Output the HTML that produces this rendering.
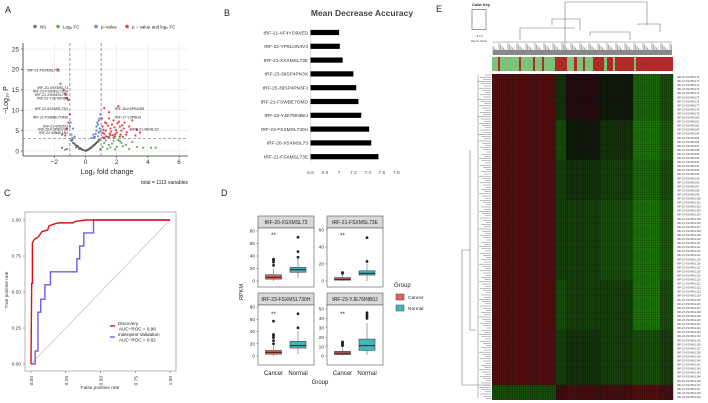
<!DOCTYPE html>
<html><head><meta charset="utf-8">
<style>
body{margin:0;background:#fff;font-family:"Liberation Sans",sans-serif;}
svg{display:block}
text{font-family:"Liberation Sans",sans-serif}
</style></head>
<body>
<svg id="fig" width="708" height="403" viewBox="0 0 708 403" xmlns="http://www.w3.org/2000/svg">
<rect width="708" height="403" fill="#fff"/>
<g font-size="9" fill="#222">
<text x="5" y="13">A</text>
<text x="224" y="16">B</text>
<text x="4" y="196">C</text>
<text x="221" y="196">D</text>
<text x="436" y="12">E</text>
</g>
<g id="pa"></g>
<g id="pb"></g>
<g id="pc"></g>
<g id="pd"></g>
<g id="pe"></g>
</svg>
<script>
const NS='http://www.w3.org/2000/svg';
function mk(p,tag,a,txt){const e=document.createElementNS(NS,tag);for(const k in a)e.setAttribute(k,a[k]);if(txt!==undefined)e.textContent=txt;p.appendChild(e);return e;}

// ---------- A: volcano data ----------
const nsX=[-0.9,-0.7,-0.5,-0.3,-0.1,0,0.1,0.3,0.5,0.7,0.9,-0.6,-0.4,0.2,0.4,0.6,0.8,-0.8,-1.2,-1.5,0.95,-0.2,0.15,0.35,0.55,0.75,-0.65,-0.45,-0.25,0.05,0.85,0.65,0.45,0.25,-0.85,-0.55,-0.35,1.2,1.5,1.8,2.2];
const nsY=[2.5,1.8,1.2,0.6,0.2,0.05,0.2,0.7,1.3,2,2.6,0.9,0.5,0.4,0.9,1.6,2.3,2,0.5,0.8,0.4,0.3,0.3,0.8,1.5,2.2,1.5,0.9,0.4,0.1,2.8,1.8,1.1,0.5,2.7,1.3,0.7,3.2,3.4,3.3,3.5];
const bluX=[-0.9,-0.8,-0.95,-0.7,0.5,0.7,0.8,0.9,0.6,0.85,-0.85,0.95,0.75,-1,0.4,0.65,0.9,0.8,0.55,0.7,0.95,0.85];
const bluY=[4,5.5,7,3.5,4,5,6.5,8,3.5,4.5,3.2,9,7,6,3.2,4.2,5.5,3.6,3.4,6,4.8,7.5];
const redX=[-1.8,-1.6,-1.4,-1.3,-1.2,-1.1,-1.0,-1.1,-1.2,-1.5,-1.3,1.2,2.1,1.5,1.8,2.5,3,1.1,1.3,1.6,2,2.3,2.6,3.2,1.4,1.9,2.8,1.2,1.7,2.2,3.5,1.1,2.4,1.05,1.5,1.25,1.45,1.65,1.85,2.05,2.25,2.45,2.65,1.15,1.35,1.55,1.75,1.95,2.15,2.35,2.9,3.3,1.1,1.3,1.6,1.9];
const redY=[20,16.5,15,14,13,12.5,9,7,5.5,4,3.8,10.5,11,8,7.5,7,7.5,6,5,5.5,4.5,5,4,3.8,3.5,3.6,6,4.2,6.5,6,4.5,3.3,3.5,8,9.5,7,6.2,4.8,5.8,6.8,4,5.5,4.6,5.2,6.8,4.3,3.9,5.1,7.2,6.3,5.3,5.2,4.5,3.6,3.9,4.1];
const grnX=[1.2,1.5,1.8,2,2.3,2.6,3,3.3,3.7,4.2,4.5,1.4,2.8,-1.3,1.1,1.3,1.7,2.1,2.4,1.6,1.9,2.2];
const grnY=[2,1.5,2.5,1,2,1.5,2.2,1,0.8,0.8,0.8,0.5,0.5,0.3,1,2.6,1.8,2.7,1.2,0.9,0.4,2.4];
const volXTicks=[-2,0,2,4,6], volYTicks=[0,5,10,15,20,25];
const volLabels=[["tRF-21-FSXMSL73E",-1.8,19.5],["tRF-20-XSXMSL73",-1.3,15.2],["tRF-23-FSXMSL730H",-1.3,14.3],["tRF-21-XSXMSL73E",-1.3,13.5],["tRF-22-Y3E76INB6",-1.3,12.6],["tRF-22-6SXMSL73O",-1.3,10],["tRF-21-FSWBE7OMD",-1.3,8],["tRF-16-K0PIN2D5",1.9,10],["tRF-21-W62DO",-1.3,5.8],["tRF-20-K3P80V9D",-1.3,5],["tRF-22-WB6K1N2",-1.3,4.2],["tRF-17-Y3PBU9",1.9,8],["tRF-21-RK9ILS7",3,5]];
(function(){
 const g=document.getElementById('pa');
 const X=v=>85.5+v*15.6, Y=v=>151-v*4.08;
 const L=23,R=188,T=43,B=156;
 mk(g,'rect',{x:L,y:T,width:R-L,height:B-T,fill:'#fff'});
 volXTicks.forEach(t=>{mk(g,'line',{x1:X(t),x2:X(t),y1:T,y2:B,stroke:'#e6e6e6','stroke-width':0.6});mk(g,'line',{x1:X(t),x2:X(t),y1:B,y2:B+2,stroke:'#333','stroke-width':0.6});mk(g,'text',{x:X(t),y:B+8,'font-size':6.5,'text-anchor':'middle',fill:'#333'},t<0?'−'+(-t):t);});
 volYTicks.forEach(t=>{mk(g,'line',{x1:L,x2:R,y1:Y(t),y2:Y(t),stroke:'#e6e6e6','stroke-width':0.6});mk(g,'line',{x1:L-2,x2:L,y1:Y(t),y2:Y(t),stroke:'#333','stroke-width':0.6});mk(g,'text',{x:L-4,y:Y(t)+2.3,'font-size':6.5,'text-anchor':'end',fill:'#333'},t);});
 mk(g,'line',{x1:L,x2:L,y1:T,y2:B,stroke:'#333','stroke-width':0.8});
 mk(g,'line',{x1:L,x2:R,y1:B,y2:B,stroke:'#333','stroke-width':0.8});
 [-1,1].forEach(t=>mk(g,'line',{x1:X(t),x2:X(t),y1:T,y2:B,stroke:'#555','stroke-width':0.6,'stroke-dasharray':'3,2'}));
 mk(g,'line',{x1:L,x2:R,y1:Y(3),y2:Y(3),stroke:'#555','stroke-width':0.6,'stroke-dasharray':'3,2'});
 function pts(xs,ys,c,name){xs.forEach((x,i)=>{const e=mk(g,'circle',{cx:X(x),cy:Y(ys[i]),r:1.1,fill:c,'fill-opacity':0.8});
 
 });}
 pts(nsX,nsY,'#555','ns-point');pts(grnX,grnY,'#4a9a3a','log2fc-point');pts(bluX,bluY,'#4b68d8','pvalue-point');pts(redX,redY,'#dd1a1a','significant-point');
 volLabels.forEach(l=>{const anchor=l[1]<0?'end':'start';mk(g,'text',{x:X(l[1])+(l[1]<0?3:0),y:Y(l[2]),'font-size':3.6,'text-anchor':anchor,fill:'#222'},l[0]);});
 mk(g,'text',{x:107,y:174,'font-size':7,'text-anchor':'middle',fill:'#222'},'Log₂ fold change');
 mk(g,'text',{x:8,y:100,'font-size':7,'text-anchor':'middle',fill:'#222',transform:'rotate(-90 8 100)'},'−Log₁₀ P');
 mk(g,'text',{x:188,y:184,'font-size':5,'text-anchor':'end',fill:'#222'},'total = 1113 variables');
 const leg=[['NS','#777',35],['Log₂ FC','#5fae4c',58],['p−value','#6b86e6',96],['p − value and log₂ FC','#e04747',127]];
 leg.forEach(l=>{const e=mk(g,'circle',{cx:l[2],cy:26.5,r:1.8,fill:l[1]});
 
 
 mk(g,'text',{x:l[2]+5,y:28.5,'font-size':4.5,fill:'#222'},l[0]);});
})();

// ---------- B: importance ----------
const bNames=["tRF-21-VF4YO9XED","tRF-22-YP9LON4V3","tRF-21-XSXMSL73E","tRF-23-39SP4PN3X","tRF-25-39SP4PN3FJ","tRF-21-FSWBE7OMD","tRF-23-YJE76INB0J","tRF-23-FSXMSL730H","tRF-20-XSXMSL73","tRF-21-FSXMSL73E"];
const bVals=[7.0,7.01,7.05,7.2,7.24,7.27,7.31,7.42,7.45,7.55];
const bTicks=[6.6,6.8,7,7.2,7.4,7.6,7.8];
(function(){
 const g=document.getElementById('pb');
 const X=v=>310.5+(v-6.6)*71.5;
 mk(g,'text',{x:362,y:16,'font-size':8.5,'font-weight':'bold','text-anchor':'middle',fill:'#444'},'Mean Decrease  Accuracy');
 mk(g,'line',{x1:310.5,x2:310.5,y1:27,y2:163,stroke:'#ccc','stroke-width':0.6});
 bNames.forEach((n,i)=>{const y=32.5+i*13.8;
  const r=mk(g,'rect',{x:310.5,y:y-2.6,width:X(bVals[i])-310.5,height:5.2,fill:'#000'});
  
  
  mk(g,'text',{x:308,y:y+1.8,'font-size':4.8,'text-anchor':'end',fill:'#333'},n);});
 bTicks.forEach(t=>mk(g,'text',{x:X(t),y:174,'font-size':4.8,'text-anchor':'middle',fill:'#555'},t));
})();

// ---------- C: ROC ----------
const discFpr=[0,0.005,0.01,0.01,0.02,0.03,0.05,0.08,0.12,0.13,0.16,0.2,0.3,0.32,0.4,1];
const discTpr=[0,0.56,0.56,0.84,0.86,0.87,0.88,0.92,0.93,0.96,0.97,0.98,0.98,0.99,1,1];
const valFpr=[0,0.03,0.03,0.05,0.05,0.07,0.07,0.1,0.1,0.14,0.14,0.33,0.33,0.35,0.35,0.38,0.38,0.45,0.45,1];
const valTpr=[0,0,0.09,0.09,0.36,0.36,0.45,0.45,0.55,0.55,0.64,0.64,0.73,0.73,0.82,0.82,0.91,0.91,1,1];
const rocTicks=[0,0.25,0.5,0.75,1];
(function(){
 const g=document.getElementById('pc');
 const X=v=>31+v*139, Y=v=>364-v*144;
 mk(g,'rect',{x:25,y:212,width:151,height:159,fill:'#fff',stroke:'#999','stroke-width':0.7});
 rocTicks.forEach(t=>{const s=t.toFixed(2);
  mk(g,'line',{x1:X(t),x2:X(t),y1:371,y2:373,stroke:'#555','stroke-width':0.5});
  mk(g,'text',{x:X(t)+2,y:376,'font-size':4.8,'text-anchor':'end',fill:'#333',transform:`rotate(-90 ${X(t)+2} 376)`},s);
  mk(g,'line',{x1:23,x2:25,y1:Y(t),y2:Y(t),stroke:'#555','stroke-width':0.5});
  mk(g,'text',{x:21,y:Y(t)+1.7,'font-size':4.8,'text-anchor':'end',fill:'#333'},s);});
 mk(g,'line',{x1:X(0),y1:Y(0),x2:X(1),y2:Y(1),stroke:'#bbb','stroke-width':0.6});
 function line(xs,ys,c,n){const p=mk(g,'polyline',{points:xs.map((x,i)=>X(x)+','+Y(ys[i])).join(' '),fill:'none',stroke:c,'stroke-width':1.4});
  
  }
 line(valFpr,valTpr,'#6e5ee6','validation-roc-line');
 line(discFpr,discTpr,'#e01010','discovery-roc-line');
 mk(g,'text',{x:100,y:389,'font-size':4.8,'text-anchor':'middle',fill:'#333'},'False positive rate');
 mk(g,'text',{x:8,y:290,'font-size':4.8,'text-anchor':'middle',fill:'#333',transform:'rotate(-90 8 290)'},'True positive rate');
 mk(g,'line',{x1:110,x2:115,y1:326,y2:326,stroke:'#e01010','stroke-width':1.4});
 mk(g,'text',{x:118,y:325,'font-size':4.6,fill:'#222'},'Discovery');
 mk(g,'text',{x:119,y:330.5,'font-size':4.6,fill:'#222'},'AUC−ROC = 0.98');
 mk(g,'line',{x1:110,x2:115,y1:337,y2:337,stroke:'#6e5ee6','stroke-width':1.4});
 mk(g,'text',{x:118,y:336,'font-size':4.6,fill:'#222'},'Indenpent Validation');
 mk(g,'text',{x:119,y:341.5,'font-size':4.6,fill:'#222'},'AUC−ROC = 0.82');
})();

// ---------- D: boxplots ----------
const facetNames=["tRF-20-XSXMSL73","tRF-21-FSXMSL73E","tRF-23-FSXMSL730H","tRF-23-YJE76INB0J"];
const facetMax=[80,60,80,50];
const facetTicks=[[0,20,40,60,80],[0,20,40,60],[0,20,40,60,80],[0,10,20,30,40,50]];
const cancerStats=[[0,3,6,10,20],[0,1,2,4,7],[0,3,6,9,17],[0,1.5,3,5,9]];
const normalStats=[[5,14,18,22,35],[0,7,9,12,20],[3,13,17,24,40],[1,6,11,18,35]];
const cancerOut=[[25,30,33,35],[9,10],[20,25,30,33,35,57],[11,12,13,14,15]];
const normalOut=[[38,47,70],[23,51],[46,69],[40,42,44,46]];
const starY=[75,55,70,46];
(function(){
 const g=document.getElementById('pd');
 const panels=[[258,314,216,228,287],[327,383,216,228,287],[258,314,293,305,365],[327,383,293,305,365]];
 const zeroY=[281,281,356,356], pxPer=[50/80,51/60,49/80,47/50];
 panels.forEach((p,i)=>{
  const [L,R,ST,T,B]=p;const Y=v=>zeroY[i]-v*pxPer[i];
  mk(g,'rect',{x:L,y:ST,width:R-L,height:T-ST,fill:'#d9d9d9',stroke:'#555','stroke-width':0.6});
  mk(g,'text',{x:(L+R)/2,y:ST+8,'font-size':5,'text-anchor':'middle',fill:'#222'},facetNames[i]);
  mk(g,'rect',{x:L,y:T,width:R-L,height:B-T,fill:'#fff',stroke:'#555','stroke-width':0.6});
  facetTicks[i].forEach(t=>{mk(g,'text',{x:L-3,y:Y(t)+1.7,'font-size':4.8,'text-anchor':'end',fill:'#333'},t);mk(g,'line',{x1:L-1.5,x2:L,y1:Y(t),y2:Y(t),stroke:'#555','stroke-width':0.5});});
  const xs=[L+15.5,L+40];
  [[cancerStats,cancerOut,'#e0655e'],[normalStats,normalOut,'#3fb8bd']].forEach((s,j)=>{
   const st=s[0][i],x=xs[j];
   mk(g,'line',{x1:x,x2:x,y1:Y(st[0]),y2:Y(st[4]),stroke:'#444','stroke-width':0.5});
   const r=mk(g,'rect',{x:x-8,y:Y(st[3]),width:16,height:Math.max(1,Y(st[1])-Y(st[3])),fill:s[2],stroke:'#444','stroke-width':0.6});
   
   
   mk(g,'line',{x1:x-8,x2:x+8,y1:Y(st[2]),y2:Y(st[2]),stroke:'#222','stroke-width':1});
   s[1][i].forEach(o=>mk(g,'circle',{cx:x,cy:Y(o),r:1.4,fill:'#222'}));
  });
  mk(g,'text',{x:xs[0],y:Y(starY[i])+3,'font-size':6,'text-anchor':'middle',fill:'#222'},'**');
  if(i>=2){mk(g,'text',{x:xs[0],y:375,'font-size':6,'text-anchor':'middle',fill:'#222'},'Cancer');mk(g,'text',{x:xs[1],y:375,'font-size':6,'text-anchor':'middle',fill:'#222'},'Normal');}
 });
 mk(g,'text',{x:320,y:384,'font-size':6,'text-anchor':'middle',fill:'#222'},'Group');
 mk(g,'text',{x:243,y:292,'font-size':5.5,'text-anchor':'middle',fill:'#222',transform:'rotate(-90 243 292)'},'RPKM');
 mk(g,'text',{x:394,y:287,'font-size':6,fill:'#222'},'Group');
 mk(g,'rect',{x:396,y:294,width:8,height:6,fill:'#e0655e',stroke:'#444','stroke-width':0.5});
 mk(g,'text',{x:408,y:299,'font-size':4.8,fill:'#222'},'Cancer');
 mk(g,'rect',{x:396,y:305,width:8,height:6,fill:'#3fb8bd',stroke:'#444','stroke-width':0.5});
 mk(g,'text',{x:408,y:310,'font-size':4.8,fill:'#222'},'Normal');
})();

// ---------- E: heatmap ----------
const colBreaks=[492,556,566,600,633,660,673];
const rowBreaks=[74,120,160,200,240,280,330,385,400];
const blockVals=[
 [0.5,-0.2,0.1,0.0,-0.6,-0.4],
 [0.5,-0.4,0.0,-0.2,-0.7,-0.5],
 [0.5,-0.3,-0.2,-0.3,-0.6,-0.4],
 [0.5,-0.3,-0.3,-0.4,-0.7,-0.5],
 [0.5,-0.3,-0.3,-0.4,-0.7,-0.5],
 [0.5,-0.4,-0.3,-0.3,-0.7,-0.4],
 [0.5,-0.3,-0.2,-0.3,-0.4,-0.3],
 [-0.4,0.3,0.4,0.4,0.5,0.4]];
const groupBar=[[492,555,'g'],[498,500,'r'],[519,521,'r'],[533,535,'r'],[542,544,'r'],[555,567,'r'],[567,593,'g'],[574,577,'r'],[583,585,'r'],[593,633,'r'],[604,607,'g'],[613,615,'g'],[633,673,'r'],[634,636,'g']];
(function(){
 const g=document.getElementById('pe');
 function col(v){const a=Math.abs(v);return v>0?`rgb(${Math.round(25+130*a)},${Math.round(12+10*a)},${Math.round(18)})`:`rgb(${Math.round(18+20*a)},${Math.round(28+140*a)},${Math.round(12)})`;}
 blockVals.forEach((row,ri)=>row.forEach((v,ci)=>{
  const r=mk(g,'rect',{x:colBreaks[ci],y:rowBreaks[ri],width:colBreaks[ci+1]-colBreaks[ci],height:rowBreaks[ri+1]-rowBreaks[ri],fill:col(v)});
  
  }));
 for(let x=492.5;x<673;x+=2.2)mk(g,'rect',{x:x,y:74,width:0.7,height:326,fill:'#000','fill-opacity':0.35});
 for(let y=74.5;y<400;y+=2.4)mk(g,'rect',{x:492,y:y,width:181,height:0.6,fill:'#000','fill-opacity':0.25});
 groupBar.forEach(b=>{const r=mk(g,'rect',{x:b[0],y:57,width:b[1]-b[0],height:14,fill:b[2]=='g'?'#7cc27a':'#b02a2a'});
  
  });
 const dc='#777';
 mk(g,'polyline',{points:'565,55 565,2 647,2 647,25',fill:'none',stroke:dc,'stroke-width':0.6});
 mk(g,'polyline',{points:'552,25 552,19 580,19 580,30',fill:'none',stroke:dc,'stroke-width':0.6});
 mk(g,'polyline',{points:'638,25 638,24 660,24 660,32',fill:'none',stroke:dc,'stroke-width':0.6});
 mk(g,'polyline',{points:'520,40 520,28 575,28',fill:'none',stroke:dc,'stroke-width':0.6});
 mk(g,'polyline',{points:'590,36 590,32 630,32 630,40',fill:'none',stroke:dc,'stroke-width':0.6});
 for(let x=493;x<673;x+=1.5)mk(g,'line',{x1:x,x2:x,y1:42+((x*7)%9),y2:55,stroke:dc,'stroke-width':0.6});
 mk(g,'rect',{x:493,y:50,width:179,height:5,fill:'#888'});
 mk(g,'line',{x1:493,x2:672,y1:42,y2:42,stroke:dc,'stroke-width':0.5});
 mk(g,'polyline',{points:'490,385 462,385 462,250 470,250',fill:'none',stroke:dc,'stroke-width':0.6});
 mk(g,'polyline',{points:'470,150 470,330 476,330',fill:'none',stroke:dc,'stroke-width':0.6});
 for(let y=75;y<400;y+=2.2)mk(g,'line',{x1:478+((y*5)%8),x2:491,y1:y,y2:y,stroke:dc,'stroke-width':0.5});
 mk(g,'line',{x1:478,x2:478,y1:75,y2:398,stroke:dc,'stroke-width':0.5});
 for(let i=0;i<80;i++){mk(g,'text',{x:677,y:78+i*4.05,'font-size':2.6,fill:'#444'},'tRF-2'+(i%5)+'-XSXMSL'+(70+i));}
 mk(g,'text',{x:472,y:6,'font-size':3.8,'font-weight':'bold',fill:'#222'},'Color Key');
 mk(g,'rect',{x:472,y:9.5,width:14,height:20,fill:'#fff',stroke:'#333','stroke-width':0.5});
 mk(g,'text',{x:479,y:37,'font-size':2.6,'text-anchor':'middle',fill:'#333'},'−4  0  4');
 mk(g,'text',{x:479,y:42,'font-size':2.6,'text-anchor':'middle',fill:'#333'},'Row Z−Score');
})();
</script>
</body></html>
